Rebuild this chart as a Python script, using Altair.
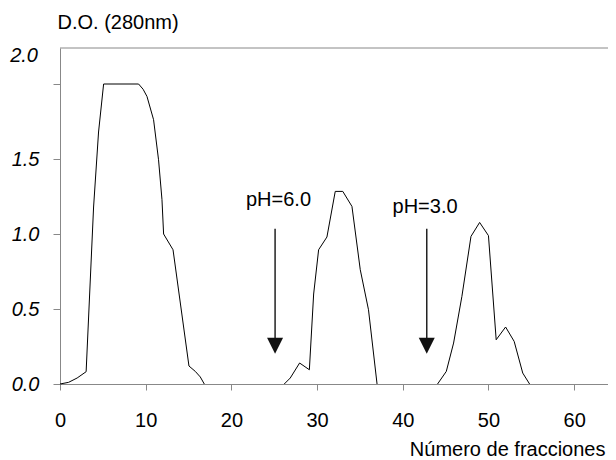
import altair as alt
import pandas as pd

FONT = "Liberation Sans"

# Peak 1 (fractions / optical density)
p1_frac = [0, 1.0, 2.0, 3.05, 3.92, 4.5, 5.09, 9.17, 9.7, 10.15, 10.92, 11.5, 11.9, 12.09,
           13.19, 15.05, 15.79, 16.37, 16.84]
p1_od = [0, 0.011, 0.04, 0.082, 1.18, 1.68, 2.0, 2.0, 1.965, 1.917, 1.762, 1.495, 1.229, 1.0,
         0.895, 0.12, 0.084, 0.047, 0.0]
# Peak 2
p2_frac = [26.17, 26.87, 27.96, 29.1, 29.6, 30.18, 31.15, 32.12, 33.0, 34.07, 35.04, 36.0, 37.0]
p2_od = [0, 0.04, 0.14, 0.095, 0.6, 0.895, 0.98, 1.284, 1.284, 1.184, 0.762, 0.495, 0.0]
# Peak 3
p3_frac = [44.06, 45.08, 45.93, 46.9, 47.96, 48.97, 50.0, 50.9, 52.0, 53.0, 54.0, 54.8]
p3_od = [0, 0.084, 0.273, 0.584, 0.984, 1.077, 0.989, 0.295, 0.38, 0.284, 0.073, 0.0]

# Arrows (pH changes)
arrow_labels = ["pH=6.0", "pH=3.0"]
arrow_frac = [25.1, 42.8]
arrow_top = [1.035, 1.035]
arrow_head = [0.255, 0.255]
label_frac = [25.5, 42.6]
label_od = [1.19, 1.142]

x_ticks = [0, 10, 20, 30, 40, 50, 60]
y_ticks = [0, 0.5, 1.0, 1.5, 2.0]
X_MAX = 63.95
Y_MAX = 2.24

rows = []
for name, xs, ys in [("1", p1_frac, p1_od), ("2", p2_frac, p2_od), ("3", p3_frac, p3_od)]:
    for xv, yv in zip(xs, ys):
        rows.append({"peak": name, "frac": xv, "od": yv})
df = pd.DataFrame(rows)

arr = pd.DataFrame({
    "label": arrow_labels, "frac": arrow_frac, "top": arrow_top, "head": arrow_head,
    "lfrac": label_frac, "lod": label_od,
})

x_scale = alt.Scale(domain=[0, X_MAX], nice=False, zero=False)
y_scale = alt.Scale(domain=[0, Y_MAX], nice=False)

x_axis = alt.Axis(
    values=x_ticks, title="Número de fracciones", tickSize=6, labelPadding=20,
    labelFlush=False, format="d", titleX=545, titleY=65, titleAlign="right",
    titleBaseline="middle",
)
y_axis = alt.Axis(
    values=y_ticks, title="D.O. (280nm)", tickSize=7, labelPadding=14, labelFlush=False,
    labelFontStyle="italic",
    labelExpr="datum.value == 2 ? '' : format(datum.value, '.1f')",
    titleAngle=0, titleX=-3, titleY=-26, titleAlign="left", titleBaseline="middle",
)

line = alt.Chart(df).mark_line(color="black", strokeWidth=1.0).encode(
    x=alt.X("frac:Q", scale=x_scale, axis=x_axis),
    y=alt.Y("od:Q", scale=y_scale, axis=y_axis),
    detail="peak:N",
)

top_border = alt.Chart(pd.DataFrame({"v": [Y_MAX]})).mark_rule(
    color="#888", strokeWidth=1
).encode(
    y=alt.Y("v:Q", scale=y_scale, axis=y_axis),
)

rule = alt.Chart(arr).mark_rule(color="#222", strokeWidth=1.5).encode(
    x=alt.X("frac:Q", scale=x_scale, axis=x_axis),
    y=alt.Y("top:Q", scale=y_scale, axis=y_axis),
    y2="head:Q",
)

head = alt.Chart(arr).mark_point(
    shape="M-1,-1L1,-1L0,1Z", size=256, filled=True, color="#111", opacity=1
).encode(
    x=alt.X("frac:Q", scale=x_scale, axis=x_axis),
    y=alt.Y("head:Q", scale=y_scale, axis=y_axis),
)

labels = alt.Chart(arr).mark_text(
    font=FONT, fontSize=20, color="black", baseline="alphabetic", align="center"
).encode(
    x=alt.X("lfrac:Q", scale=x_scale, axis=x_axis),
    y=alt.Y("lod:Q", scale=y_scale, axis=y_axis),
    text="label:N",
)

top_label = alt.Chart(pd.DataFrame({"t": ["2.0"], "v": [2.19]})).mark_text(
    font=FONT, fontSize=20, fontStyle="italic", color="black", align="right",
    baseline="middle",
).encode(
    x=alt.value(-22),
    y=alt.Y("v:Q", scale=y_scale, axis=y_axis),
    text="t:N",
)

chart = alt.layer(top_border, line, rule, head, labels, top_label).properties(
    width=548, height=336,
    padding={"left": 52, "top": 40, "right": 0, "bottom": 76},
    autosize=alt.AutoSizeParams(type="none"),
).configure_view(strokeWidth=0).configure_axis(
    domainColor="#888", tickColor="#888", labelFont=FONT, titleFont=FONT,
    labelFontSize=20, titleFontSize=20, labelColor="black", titleColor="black",
    grid=False, titleFontWeight="normal", domainWidth=1, tickWidth=1,
)

chart.save("out.html", embed_options={"renderer": "svg", "actions": False})
